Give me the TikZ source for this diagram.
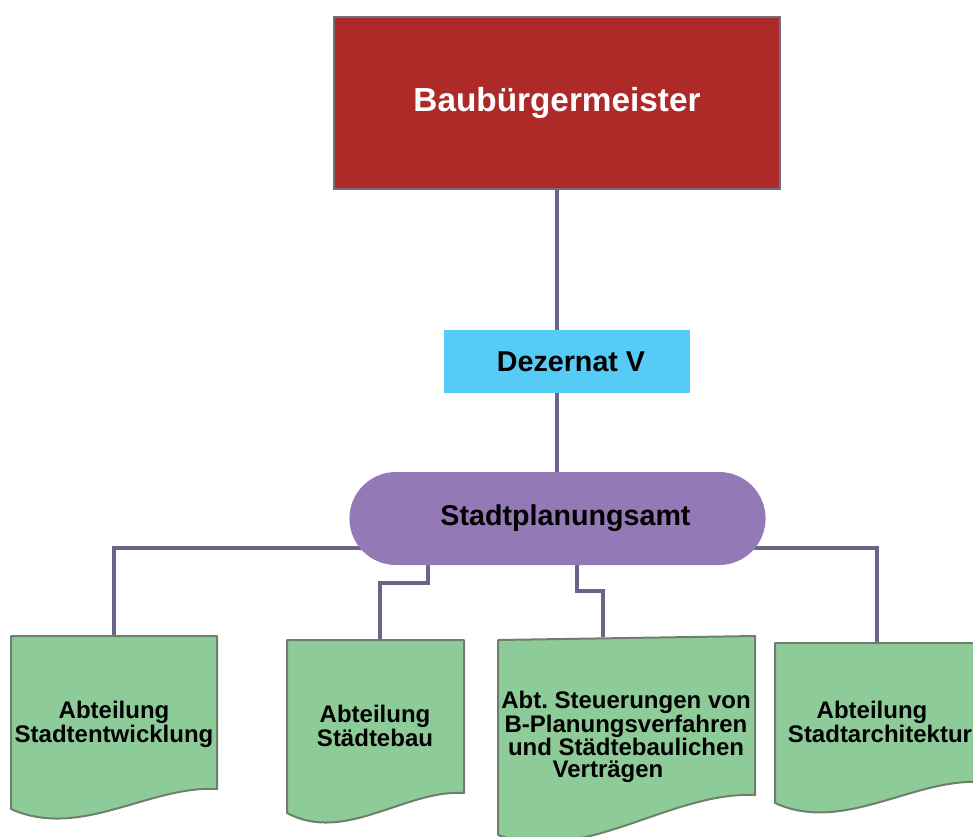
\documentclass[tikz,border=0pt]{standalone}
\usepackage{fontspec}
\setmainfont{Liberation Sans}
\usetikzlibrary{shapes.misc, backgrounds}
\definecolor{BauRed}{RGB}{174, 42, 40}
\definecolor{FrameGray}{RGB}{112, 112, 128}
\definecolor{DezBlue}{RGB}{86, 203, 245}
\definecolor{AmtViolet}{RGB}{148, 121, 183}
\definecolor{LineViolet}{RGB}{107, 100, 136}
\definecolor{AbtGreen}{RGB}{141, 203, 152}
\definecolor{AbtEdge}{RGB}{110, 127, 110}

\begin{document}
\begin{tikzpicture}[x=0.75pt, y=-0.75pt,
    conn/.style={line width=3pt, draw=LineViolet},
    docbox/.style={fill=AbtGreen, draw=AbtEdge, line width=1.5pt, line join=round},
    lbl/.style={font=\bfseries\fontsize{18}{16.5}\selectfont, align=center, inner sep=0pt}]
      \useasboundingbox (0,0) rectangle (973,836);
      \clip (0,0) rectangle (973,836);

      % Top levels
      \node[draw=FrameGray, line width=1.5pt, fill=BauRed, text=white,
            minimum width=334.5pt, minimum height=129pt,
            font=\bfseries\fontsize{25}{30}\selectfont] (bau) at (557,103) {Baubürgermeister};
      \node[fill=DezBlue, minimum width=184.5pt, minimum height=47.25pt,
            font=\bfseries\fontsize{21.5}{26}\selectfont] (dez) at (567,361.5) {\hspace*{6pt}Dezernat V};
      \node[rounded rectangle, fill=AmtViolet, minimum width=318.75pt, minimum height=69.75pt,
            font=\bfseries\fontsize{21.5}{26}\selectfont] (amt) at (557.5,518.5) {\hspace*{12pt}Stadtplanungsamt};

      \draw[conn] (bau.south) -- (bau.south |- dez.north);
      \draw[conn] (bau.south |- dez.south) -- (bau.south |- amt.north);

      % Departments (document shapes)
      \draw[docbox] (11,636) -- (217,636) -- (217,789)
            .. controls (150,785) and (80,840) .. (11,809) -- cycle;
      \draw[docbox] (287,640) -- (464,640) -- (464,793)
            .. controls (406,789) and (345,844) .. (287,813) -- cycle;
      \draw[docbox] (498,640) -- (755,636) -- (755,795)
            .. controls (670,791) and (583,866) .. (498,835) -- cycle;
      \draw[docbox] (775,643) -- (981,643) -- (981,782)
            .. controls (913,778) and (843,834) .. (775,803) -- cycle;

      \coordinate (top1) at (114,636);
      \coordinate (top2) at (380,640);
      \coordinate (top3) at (603,637);
      \coordinate (top4) at (877,643);

      \node[lbl] (abt1) at (114,724) {Abteilung\\Stadtentwicklung};
      \node[lbl] (abt2) at (375,726) {Abteilung\\Städtebau};
      \node[lbl] (abt3) at (626,737) {Abt.\ Steuerungen von\\B-Planungsverfahren\\und Städtebaulichen\\Verträgen\hspace*{27pt}};
      \node[lbl] (abt4) at (880,722) {Abteilung\hspace*{12pt}\\Stadtarchitektur};

      % Connectors to the departments
      \begin{scope}[on background layer]
        \draw[conn] ([yshift=-21.75pt]amt.center) -| (top1);
        \draw[conn] ([xshift=-97.5pt]amt.center) |- ++(0,64) -| (top2);
        \draw[conn] ([xshift=14.25pt]amt.center) |- ++(0,72) -| (top3);
        \draw[conn] ([yshift=-21.75pt]amt.center) -| (top4);
      \end{scope}
    \end{tikzpicture}
\end{document}
